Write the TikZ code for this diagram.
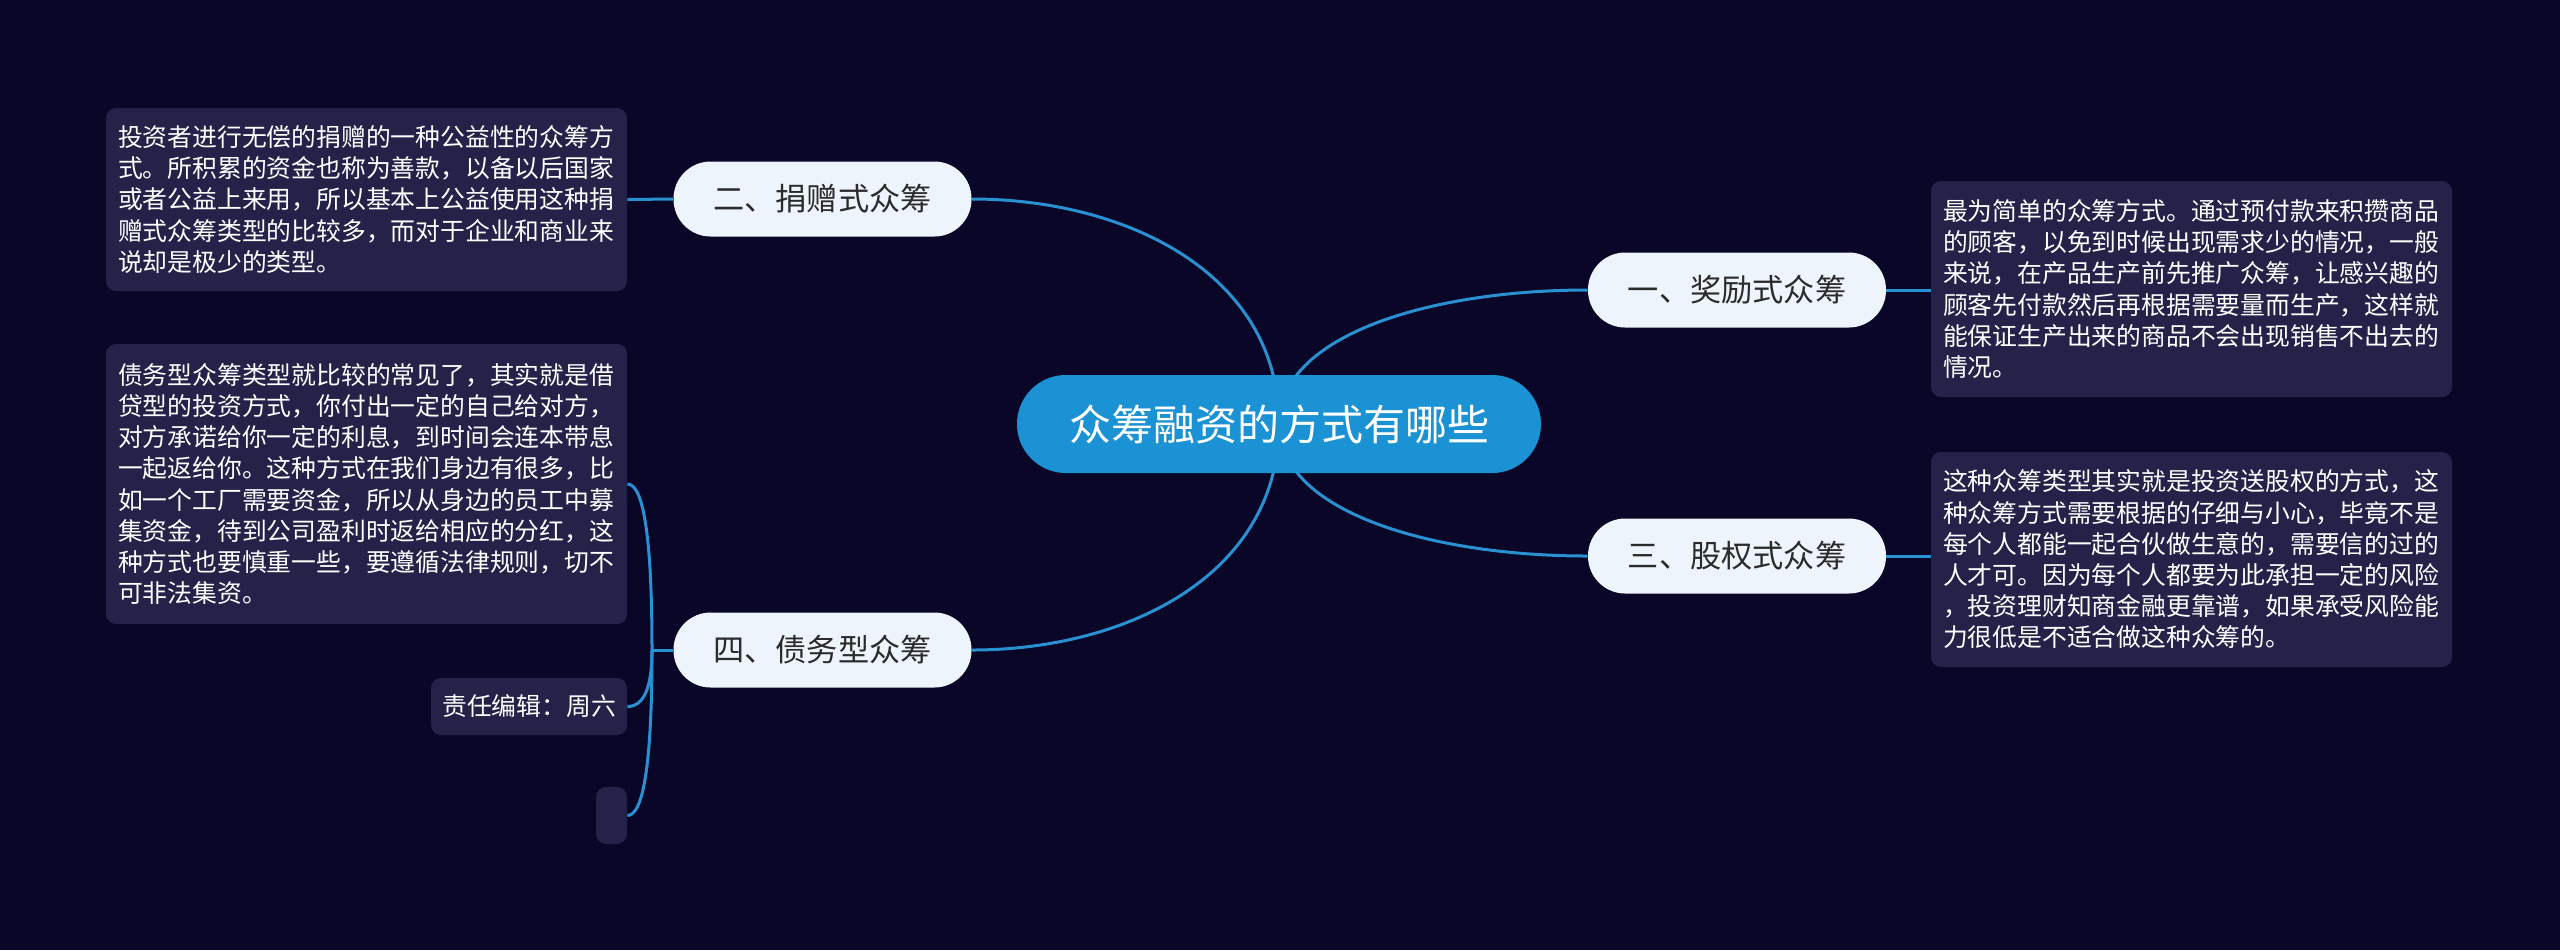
\documentclass[tikz,border=0pt]{standalone}
\usepackage{fontspec}
\newfontfamily\cjk{Noto Sans CJK SC}
\usetikzlibrary{calc}
\definecolor{bgc}{HTML}{0A0628}
\definecolor{boxc}{HTML}{25224A}
\definecolor{mainc}{HTML}{1B92D3}
\definecolor{linec}{HTML}{2990D2}
\definecolor{subc}{HTML}{EEF4FC}
\definecolor{subtext}{HTML}{2B2B2B}
\pgfdeclarelayer{bg}\pgfdeclarelayer{edges}\pgfsetlayers{bg,edges,main}
\begin{document}
\begin{tikzpicture}[x=0.5pt,y=-0.5pt,
 every node/.style={font=\cjk},
 root/.style={fill=mainc, text=white, rounded corners=24.4pt, minimum width=262pt, minimum height=49pt, font=\cjk\fontsize{21pt}{25pt}\selectfont, inner sep=0pt},
 topic/.style={fill=subc, text=subtext, rounded corners=18.6pt, minimum width=149pt, minimum height=37.5pt, font=\cjk\fontsize{15.6pt}{18pt}\selectfont, inner sep=0pt},
 note/.style={fill=boxc, text=white, rounded corners=5pt, align=left, inner xsep=6pt, inner ysep=0pt, text width=248.5pt, minimum width=260.5pt, font=\cjk\fontsize{12.4pt}{15.6pt}\selectfont},
 tag/.style={fill=boxc, text=white, rounded corners=5pt, inner sep=0pt, font=\cjk\fontsize{12.4pt}{15.6pt}\selectfont},
 link/.style={draw=linec, line width=1.5pt}
]
\begin{pgfonlayer}{bg}
\fill[bgc] (0,0) rectangle (2560,950);
\end{pgfonlayer}
\useasboundingbox (0,0) rectangle (2560,950);

\node[root] (c) at (1279,424) {众筹融资的方式有哪些};
\node[topic] (n1) at (1737,290) {一、奖励式众筹};
\node[topic] (n3) at (1737,556) {三、股权式众筹};
\node[topic] (n2) at (822.5,199) {二、捐赠式众筹};
\node[topic] (n4) at (822.5,650) {四、债务型众筹};

\node[note, minimum height=91.5pt] (b2) at (366.5,199.5) {投资者进行无偿的捐赠的一种公益性的众筹方\\式。所积累的资金也称为善款，以备以后国家\\或者公益上来用，所以基本上公益使用这种捐\\赠式众筹类型的比较多，而对于企业和商业来\\说却是极少的类型。};
\node[note, minimum height=140pt] (b4) at (366.5,484) {债务型众筹类型就比较的常见了，其实就是借\\贷型的投资方式，你付出一定的自己给对方，\\对方承诺给你一定的利息，到时间会连本带息\\一起返给你。这种方式在我们身边有很多，比\\如一个工厂需要资金，所以从身边的员工中募\\集资金，待到公司盈利时返给相应的分红，这\\种方式也要慎重一些，要遵循法律规则，切不\\可非法集资。};
\node[note, minimum height=108pt] (b1) at (2191.5,289) {最为简单的众筹方式。通过预付款来积攒商品\\的顾客，以免到时候出现需求少的情况，一般\\来说，在产品生产前先推广众筹，让感兴趣的\\顾客先付款然后再根据需要量而生产，这样就\\能保证生产出来的商品不会出现销售不出去的\\情况。};
\node[note, minimum height=107.5pt] (b3) at (2191.5,559.5) {这种众筹类型其实就是投资送股权的方式，这\\种众筹方式需要根据的仔细与小心，毕竟不是\\每个人都能一起合伙做生意的，需要信的过的\\人才可。因为每个人都要为此承担一定的风险\\，投资理财知商金融更靠谱，如果承受风险能\\力很低是不适合做这种众筹的。};
\node[tag, minimum width=98pt, minimum height=28.5pt] (be) at (529,706.5) {责任编辑：周六};
\node[tag, minimum width=15.5pt, minimum height=28.5pt] (bx) at (611.5,815.5) {};

\coordinate (j4) at (652,650);

\begin{pgfonlayer}{edges}
\foreach \t in {n1,n2,n3,n4}{
  \draw[link] (c.center) .. controls ($(c.center)!0.667!(c.center |- \t)$) and ($(\t)!0.667!(c.center |- \t)$) .. (\t);
}
\draw[link] (n2.west) -- (b2.east);
\draw[link] (n1.east) -- (n1.east -| b1.west);
\draw[link] (n3.east) -- (n3.east -| b3.west);
\draw[link] (n4.west) -- (j4);
\foreach \t in {b4,be,bx}{
  \draw[link] (j4) .. controls ($(j4)!0.667!(j4 |- \t.east)$) and ($(\t.east)!0.667!(j4 |- \t.east)$) .. (\t.east);
}
\end{pgfonlayer}
\end{tikzpicture}
\end{document}
